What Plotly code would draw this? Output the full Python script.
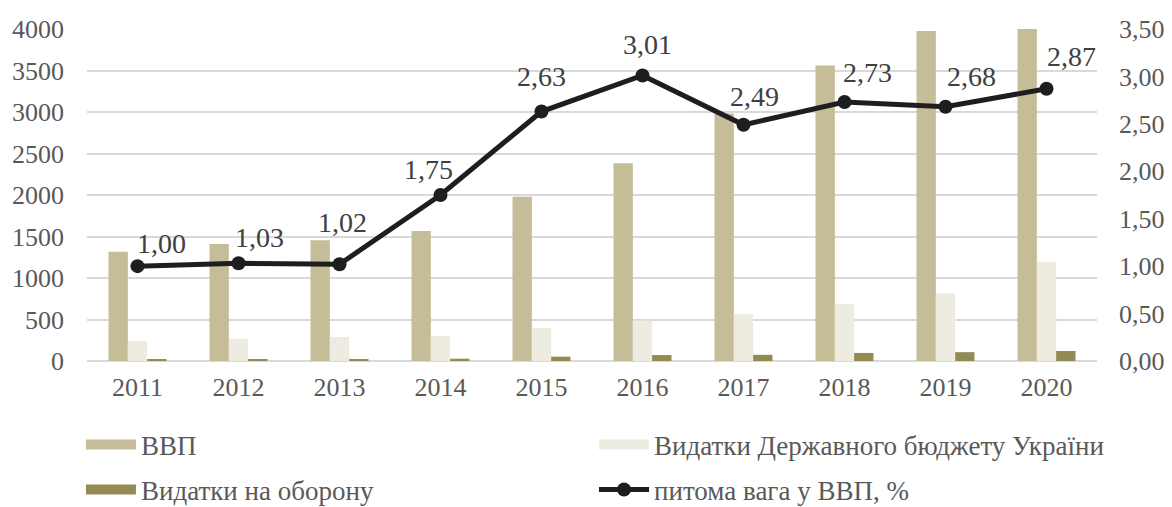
import plotly.graph_objects as go

years = ["2011", "2012", "2013", "2014", "2015", "2016", "2017", "2018", "2019", "2020"]
gdp = [1317, 1409, 1455, 1567, 1980, 2383, 2983, 3559, 3975, 4194]
budget = [241, 269, 289, 301, 398, 486, 566, 687, 815, 1197]
defense = [13.2, 14.5, 14.8, 27.4, 52.1, 71.7, 74.3, 97.2, 106.5, 120.4]
share = [1.00, 1.03, 1.02, 1.75, 2.63, 3.01, 2.49, 2.73, 2.68, 2.87]
share_labels = ["1,00", "1,03", "1,02", "1,75", "2,63", "3,01", "2,49", "2,73", "2,68", "2,87"]

names = ["ВВП", "Видатки Державного бюджету України", "Видатки на оборону", "питома вага у ВВП, %"]
colors = ["#C4BD97", "#EEECE1", "#948A54", "#1E1E1E"]

# label offsets in px (style only)
label_dx = [24, 21, 3, -12, 0, 5, 11, 23, 26, 25]
label_dy = [23, 26, 42, 26, 35, 31, 28, 30, 30, 32]

FONT = "Liberation Serif"

fig = go.Figure()
for vals, name, col in zip([gdp, budget, defense], names[:3], colors[:3]):
    fig.add_trace(go.Bar(x=years, y=vals, name=name, marker=dict(color=col, line=dict(width=0)),
                         showlegend=False, yaxis="y"))

fig.add_trace(go.Scatter(x=years, y=share, name=names[3], mode="lines+markers",
                         line=dict(color=colors[3], width=5),
                         marker=dict(size=14, color=colors[3]),
                         yaxis="y2", showlegend=True, legend="legend4", cliponaxis=False))

# legend swatches (wide rectangles like the original)
for i, leg in zip(range(3), ["legend", "legend2", "legend3"]):
    fig.add_trace(go.Scatter(x=[years[0]], y=[None], name=names[i], mode="lines",
                             line=dict(color=colors[i], width=14), legend=leg, showlegend=True))

for idx, (v, t, dx, dy) in enumerate(zip(share, share_labels, label_dx, label_dy)):
    fig.add_annotation(x=idx, y=v, xref="x", yref="y2", text=t, showarrow=False,
                       xshift=dx, yshift=dy, font=dict(family=FONT, size=28, color="#404040"))

legfont = dict(family=FONT, size=27, color="#595959")
def leg(x, y):
    return dict(x=x, y=y, xanchor="left", yanchor="middle", font=legfont, itemwidth=50,
                bgcolor="rgba(0,0,0,0)", borderwidth=0)

# the page body adds an 8px offset, so the figure is 8px smaller than the window
fig.update_layout(
    width=1164, height=499,
    margin=dict(l=79, r=75, t=21, b=146, autoexpand=False),
    paper_bgcolor="white", plot_bgcolor="white",
    barmode="group", bargap=0.426, bargroupgap=0,
    separators=", ",
    font=dict(family=FONT, size=26, color="#595959"),
    xaxis=dict(type="category", range=[-0.5, 9.5], showgrid=False, showline=False, ticks="",
               tickfont=dict(family=FONT, size=26, color="#595959"), ticklabelstandoff=8,
               automargin=False),
    yaxis=dict(range=[0, 4000], dtick=500, showgrid=True, gridcolor="#D9D9D9", gridwidth=1.5,
               zeroline=True, zerolinecolor="#D9D9D9", zerolinewidth=1.5, showline=False,
               tickfont=dict(family=FONT, size=26, color="#595959"), ticklabelstandoff=22,
               tickformat="d", automargin=False),
    yaxis2=dict(range=[0, 3.5], dtick=0.5, overlaying="y", side="right", showgrid=False,
                zeroline=False, showline=False, tickformat=".2f", automargin=False,
                tickfont=dict(family=FONT, size=26, color="#595959"), ticklabelstandoff=21),
    legend=leg(-0.006, -0.253),
    legend2=leg(0.502, -0.253),
    legend3=leg(-0.006, -0.3886),
    legend4=leg(0.502, -0.3886),
)

fig.write_html("out.html")
